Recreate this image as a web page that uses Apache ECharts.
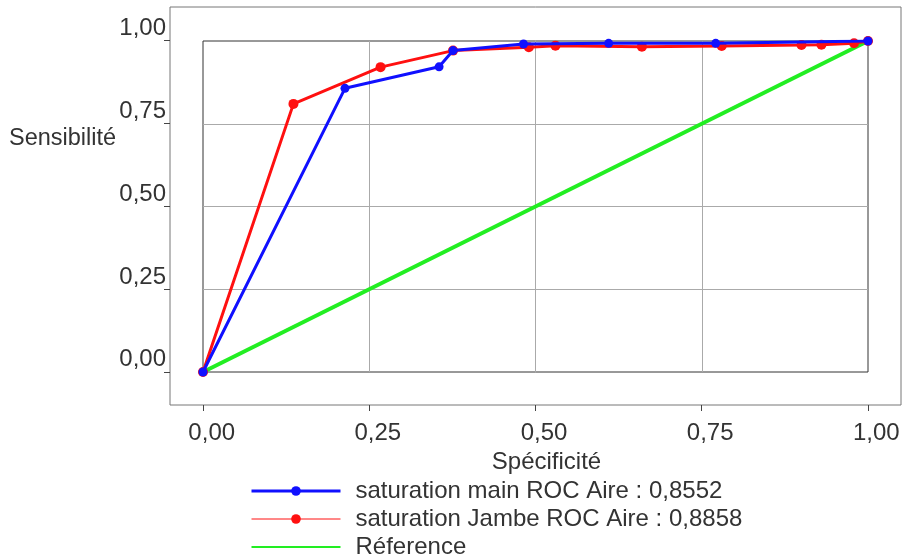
<!DOCTYPE html>
<html><head><meta charset="utf-8">
<script src="https://cdn.jsdelivr.net/npm/echarts@6/dist/echarts.min.js"></script>
<style>html,body{margin:0;padding:0;background:#fff}#c{width:904px;height:560px}</style>
</head><body><div id="c"></div>
<script>
// Data
const mainX = [0, 0.2135, 0.355, 0.376, 0.482, 0.610, 0.771, 1];
const mainY = [0, 0.857, 0.922, 0.971, 0.991, 0.993, 0.993, 1];
const jambeX = [0, 0.136, 0.267, 0.376, 0.490, 0.530, 0.660, 0.780, 0.900, 0.930, 0.979, 1];
const jambeY = [0, 0.810, 0.921, 0.971, 0.981, 0.986, 0.983, 0.985, 0.988, 0.989, 0.993, 1];
const refX = [0, 1];
const refY = [0, 1];
const tickValues = [0, 0.25, 0.5, 0.75, 1];
const seriesNames = ['saturation main ROC Aire : 0,8552', 'saturation Jambe ROC Aire : 0,8858', 'Réference'];
const xName = 'Spécificité';
const yName = 'Sensibilité';

const zip = (xs, ys) => xs.map((x, i) => [x, ys[i]]);
const fmt = v => v.toFixed(2).replace('.', ',');
const FONT = "'Liberation Sans', Arial, sans-serif";
const TXT = '#333';
const FS = 24;

const chart = echarts.init(document.getElementById('c'), null, {renderer: 'canvas'});
chart.setOption({
  animation: false,
  backgroundColor: '#fff',
  title: {text: yName, left: 9, top: 127, padding: 0,
    textStyle: {fontFamily: FONT, fontSize: 23.5, fontWeight: 'normal', color: TXT}},
  grid: [
    {left: 170, top: 7, width: 731, height: 398, show: true, borderColor: '#777', borderWidth: 1, backgroundColor: 'transparent'},
    {left: 203, top: 41, width: 665, height: 331, show: true, borderColor: '#333', borderWidth: 1, backgroundColor: 'transparent'}
  ],
  xAxis: [
    {gridIndex: 0, type: 'value', min: -0.05, max: 1.05, position: 'bottom',
     name: xName, nameLocation: 'middle', nameGap: 38,
     nameTextStyle: {fontFamily: FONT, fontSize: FS, color: TXT, padding: [0, 0, 0, 22]},
     axisLine: {show: false, onZero: false},
     axisTick: {show: true, length: 6, customValues: tickValues, lineStyle: {color: '#444'}},
     axisLabel: {customValues: tickValues, fontFamily: FONT, fontSize: FS, color: TXT, margin: 16, padding: [0, 0, 0, 17], formatter: fmt},
     splitLine: {show: false}},
    {gridIndex: 1, type: 'value', min: tickValues[0], max: tickValues[tickValues.length - 1], interval: 0.25,
     axisLine: {show: false, onZero: false}, axisTick: {show: false}, axisLabel: {show: false},
     splitLine: {show: true, showMinLine: false, showMaxLine: false, lineStyle: {color: '#aaa', width: 1}}}
  ],
  yAxis: [
    {gridIndex: 0, type: 'value', min: -0.1, max: 1.1, position: 'left',
     axisLine: {show: false, onZero: false},
     axisTick: {show: true, length: 6, customValues: tickValues, lineStyle: {color: '#444'}},
     axisLabel: {customValues: tickValues, fontFamily: FONT, fontSize: FS, color: TXT, margin: 4, verticalAlign: 'bottom', padding: [0, 0, 0, 0], formatter: fmt},
     splitLine: {show: false}},
    {gridIndex: 1, type: 'value', min: tickValues[0], max: tickValues[tickValues.length - 1], interval: 0.25,
     axisLine: {show: false, onZero: false}, axisTick: {show: false}, axisLabel: {show: false},
     splitLine: {show: true, showMinLine: false, showMaxLine: false, lineStyle: {color: '#aaa', width: 1}}}
  ],
  legend: {
    orient: 'vertical', left: 250, top: 478, padding: 0, itemWidth: 89, itemHeight: 12, itemGap: 2,
    textStyle: {fontFamily: FONT, fontSize: FS, color: TXT, lineHeight: 26, padding: [0, 0, 0, 10]},
    data: [
      {name: seriesNames[0], lineStyle: {width: 3}},
      {name: seriesNames[1], lineStyle: {width: 1}},
      {name: seriesNames[2], lineStyle: {width: 2}, itemStyle: {color: 'transparent', borderWidth: 0}}
    ]
  },
  series: [
    {name: seriesNames[2], type: 'line', xAxisIndex: 1, yAxisIndex: 1, data: zip(refX, refY),
     symbol: 'none', lineStyle: {color: '#22ee22', width: 4}, itemStyle: {color: '#22ee22'}, z: 2},
    {name: seriesNames[1], type: 'line', xAxisIndex: 1, yAxisIndex: 1, data: zip(jambeX, jambeY),
     symbol: 'circle', symbolSize: 10, lineStyle: {color: '#ff1010', width: 3}, itemStyle: {color: '#ff1010'}, z: 3},
    {name: seriesNames[0], type: 'line', xAxisIndex: 1, yAxisIndex: 1, data: zip(mainX, mainY),
     symbol: 'circle', symbolSize: 9, lineStyle: {color: '#1010ff', width: 3}, itemStyle: {color: '#1010ff'}, z: 4}
  ]
});
</script></body></html>
